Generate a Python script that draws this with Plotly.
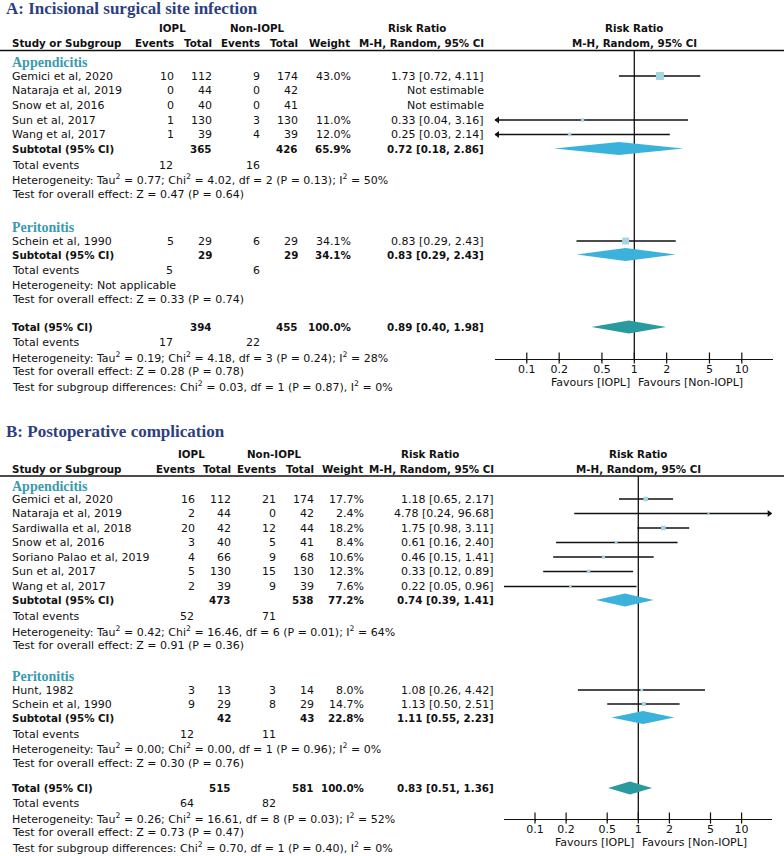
import math
import plotly.graph_objects as go

W, H = 784, 856
BODY = "DejaVu Sans"
SERIF = "Liberation Serif"
INK = "#111111"
NAVY = "#2e3f80"
TEAL_TXT = "#3a9aae"
SQ_COL = "#a4d6e2"
SUB_COL = "#3bb2dc"
TOT_COL = "#2a9a9e"
BOLD_SIZE = 10.3

# ---------------- Panel A data: Incisional surgical site infection ----------------
A_title = "A: Incisional surgical site infection"
A_groups = ["Appendicitis", "Peritonitis"]
A_study = ["Gemici et al, 2020", "Nataraja et al, 2019", "Snow et al, 2016",
           "Sun et al, 2017", "Wang et al, 2017", "Schein et al, 1990"]
A_group_of = [0, 0, 0, 0, 0, 1]
A_ev1 = [10, 0, 0, 1, 1, 5]
A_tot1 = [112, 44, 40, 130, 39, 29]
A_ev2 = [9, 0, 0, 3, 4, 6]
A_tot2 = [174, 42, 41, 130, 39, 29]
A_wt = [43.0, None, None, 11.0, 12.0, 34.1]
A_rr = [1.73, None, None, 0.33, 0.25, 0.83]
A_lo = [0.72, None, None, 0.04, 0.03, 0.29]
A_hi = [4.11, None, None, 3.16, 2.14, 2.43]
# subgroup summaries
A_sub_tot1 = [365, 29]
A_sub_tot2 = [426, 29]
A_sub_wt = [65.9, 34.1]
A_sub_rr = [0.72, 0.83]
A_sub_lo = [0.18, 0.29]
A_sub_hi = [2.86, 2.43]
A_sub_ev1 = [12, 5]
A_sub_ev2 = [16, 6]
A_sub_tau2 = [0.77, None]
A_sub_chi2 = [4.02, None]
A_sub_df = [2, None]
A_sub_p = [0.13, None]
A_sub_i2 = [50, None]
A_sub_z = [0.47, 0.33]
A_sub_pz = [0.64, 0.74]
# overall
A_tot = dict(tot1=394, tot2=455, wt=100.0, rr=0.89, lo=0.40, hi=1.98, ev1=17, ev2=22,
             tau2=0.19, chi2=4.18, df=3, p=0.24, i2=28, z=0.28, pz=0.78,
             sg_chi2=0.03, sg_df=1, sg_p=0.87, sg_i2=0)

# ---------------- Panel B data: Postoperative complication ----------------
B_title = "B: Postoperative complication"
B_groups = ["Appendicitis", "Peritonitis"]
B_study = ["Gemici et al, 2020", "Nataraja et al, 2019", "Sardiwalla et al, 2018",
           "Snow et al, 2016", "Soriano Palao et al, 2019", "Sun et al, 2017",
           "Wang et al, 2017", "Hunt, 1982", "Schein et al, 1990"]
B_group_of = [0, 0, 0, 0, 0, 0, 0, 1, 1]
B_ev1 = [16, 2, 20, 3, 4, 5, 2, 3, 9]
B_tot1 = [112, 44, 42, 40, 66, 130, 39, 13, 29]
B_ev2 = [21, 0, 12, 5, 9, 15, 9, 3, 8]
B_tot2 = [174, 42, 44, 41, 68, 130, 39, 14, 29]
B_wt = [17.7, 2.4, 18.2, 8.4, 10.6, 12.3, 7.6, 8.0, 14.7]
B_rr = [1.18, 4.78, 1.75, 0.61, 0.46, 0.33, 0.22, 1.08, 1.13]
B_lo = [0.65, 0.24, 0.98, 0.16, 0.15, 0.12, 0.05, 0.26, 0.50]
B_hi = [2.17, 96.68, 3.11, 2.40, 1.41, 0.89, 0.96, 4.42, 2.51]
B_sub_tot1 = [473, 42]
B_sub_tot2 = [538, 43]
B_sub_wt = [77.2, 22.8]
B_sub_rr = [0.74, 1.11]
B_sub_lo = [0.39, 0.55]
B_sub_hi = [1.41, 2.23]
B_sub_ev1 = [52, 12]
B_sub_ev2 = [71, 11]
B_sub_tau2 = [0.42, 0.00]
B_sub_chi2 = [16.46, 0.00]
B_sub_df = [6, 1]
B_sub_p = [0.01, 0.96]
B_sub_i2 = [64, 0]
B_sub_z = [0.91, 0.30]
B_sub_pz = [0.36, 0.76]
B_tot = dict(tot1=515, tot2=581, wt=100.0, rr=0.83, lo=0.51, hi=1.36, ev1=64, ev2=82,
             tau2=0.26, chi2=16.61, df=8, p=0.03, i2=52, z=0.73, pz=0.47,
             sg_chi2=0.70, sg_df=1, sg_p=0.40, sg_i2=0)

TICK_VALS = [0.1, 0.2, 0.5, 1, 2, 5, 10]
TICK_TEXT = ["0.1", "0.2", "0.5", "1", "2", "5", "10"]

# ---------------- layout (positions) ----------------
A_cols = dict(ev1=175, tot1=213, ev2=261, tot2=299, wt=352, rr=485, iopl=172, non=257,
              rrhdr=417, label=11, forest=634.3, decade=107.5, lo=-1.296, hi=1.293)
B_cols = dict(ev1=196, tot1=232, ev2=277, tot2=315, wt=365, rr=495, iopl=191, non=274,
              rrhdr=430, label=11, forest=638.3, decade=103.3, lo=-1.302, hi=1.291)
A_rows = dict(title=8, h1=28, h2=43, rule=50.5,
              groups=[dict(head=62, studies=[76, 90.5, 105, 120, 134.5], sub=148.5, ev=165, het=179.5, test=194),
                      dict(head=227, studies=[241], sub=254.5, ev=270, het=285, test=299)],
              total=327, tev=342, thet=357, ttest=371.5, tsg=386, axis=359, fav=382.5)
B_rows = dict(title=431, h1=453.5, h2=468.5, rule=476,
              groups=[dict(head=486, studies=[499, 513.5, 528, 542.5, 557, 571.5, 586.5], sub=600, ev=616.5, het=631, test=645.5),
                      dict(head=676, studies=[690, 704], sub=717.5, ev=734, het=748.5, test=763)],
              total=788, tev=803, thet=818, ttest=832.5, tsg=847, axis=819, fav=842.5)

fig = go.Figure()


def txt(x, y, s, anchor="left", bold=False, size=None, color=INK, family=BODY):
    if size is None:
        size = BOLD_SIZE if bold else 11
    fig.add_annotation(x=x, y=y, xref="x", yref="y", text=("<b>%s</b>" % s) if bold else s,
                       showarrow=False, xanchor=anchor, yanchor="middle", borderpad=0,
                       font=dict(family=family, size=size, color=color))


def fmt_ci(rr, lo, hi):
    return "%.2f [%.2f, %.2f]" % (rr, lo, hi)


def het_text(tau2, chi2, df, p, i2):
    if tau2 is None:
        return "Heterogeneity: Not applicable"
    return ("Heterogeneity: Tau<sup>2</sup> = %.2f; Chi<sup>2</sup> = %.2f, df = %d (P = %.2f); I<sup>2</sup> = %d%%"
            % (tau2, chi2, df, p, i2))


def draw_panel(title, groups, study, group_of, ev1, tot1, ev2, tot2, wt, rr, lo, hi,
               s_tot1, s_tot2, s_wt, s_rr, s_lo, s_hi, s_ev1, s_ev2, s_tau2, s_chi2, s_df, s_p, s_i2, s_z, s_pz,
               tot, C, R, xname):
    xmin, xmax = 10 ** C["lo"], 10 ** C["hi"]
    # title
    txt(5, R["title"], title, bold=True, size=17, color=NAVY, family=SERIF)
    # headers
    txt(C["iopl"], R["h1"], "IOPL", anchor="center", bold=True)
    txt(C["non"], R["h1"], "Non-IOPL", anchor="center", bold=True)
    txt(C["rrhdr"], R["h1"], "Risk Ratio", anchor="center", bold=True)
    txt(C["forest"], R["h1"], "Risk Ratio", anchor="center", bold=True)
    txt(C["label"], R["h2"], "Study or Subgroup", bold=True)
    txt(C["ev1"], R["h2"], "Events", anchor="right", bold=True)
    txt(C["tot1"], R["h2"], "Total", anchor="right", bold=True)
    txt(C["ev2"], R["h2"], "Events", anchor="right", bold=True)
    txt(C["tot2"], R["h2"], "Total", anchor="right", bold=True)
    txt(C["wt"] - 1, R["h2"], "Weight", anchor="right", bold=True)
    txt(C["rr"], R["h2"], "M-H, Random, 95% CI", anchor="right", bold=True)
    txt(C["forest"], R["h2"], "M-H, Random, 95% CI", anchor="center", bold=True)
    fig.add_shape(type="line", xref="paper", yref="y", x0=0, x1=1, y0=R["rule"], y1=R["rule"],
                  line=dict(color=INK, width=1.5))

    # null line
    fig.add_trace(go.Scatter(x=[1, 1], y=[R["rule"], R["axis"]], xaxis=xname, yaxis="y", mode="lines",
                             line=dict(color=INK, width=1.3), hoverinfo="skip", showlegend=False))
    # crossing tick marks
    fig.add_trace(go.Scatter(x=TICK_VALS, y=[R["axis"] - 1] * len(TICK_VALS), xaxis=xname, yaxis="y",
                             mode="markers", marker=dict(symbol="line-ns-open", size=8, color=INK,
                                                         line=dict(color=INK, width=1.2)),
                             cliponaxis=False, hoverinfo="skip", showlegend=False))

    for g, gname in enumerate(groups):
        GR = R["groups"][g]
        txt(C["label"], GR["head"], gname, bold=True, size=14, color=TEAL_TXT, family=SERIF)
        idx = [i for i in range(len(study)) if group_of[i] == g]
        for k, i in enumerate(idx):
            y = GR["studies"][k]
            txt(C["label"], y, study[i])
            txt(C["ev1"], y, str(ev1[i]), anchor="right")
            txt(C["tot1"], y, str(tot1[i]), anchor="right")
            txt(C["ev2"], y, str(ev2[i]), anchor="right")
            txt(C["tot2"], y, str(tot2[i]), anchor="right")
            if rr[i] is None:
                txt(C["rr"], y, "Not estimable", anchor="right")
                continue
            txt(C["wt"], y, "%.1f%%" % wt[i], anchor="right")
            txt(C["rr"], y, fmt_ci(rr[i], lo[i], hi[i]), anchor="right")
            # CI line, clipped to axis range
            l = max(lo[i], xmin)
            h = min(hi[i], xmax)
            fig.add_trace(go.Scatter(x=[l, h], y=[y, y], xaxis=xname, yaxis="y", mode="lines",
                                     line=dict(color=INK, width=1.3), hoverinfo="skip", showlegend=False))
            if lo[i] < xmin:
                fig.add_trace(go.Scatter(x=[xmin * 10 ** (2.5 / C["decade"])], y=[y], xaxis=xname, yaxis="y",
                                         mode="markers", marker=dict(symbol="triangle-left", size=6, color=INK),
                                         cliponaxis=False, hoverinfo="skip", showlegend=False))
            if hi[i] > xmax:
                fig.add_trace(go.Scatter(x=[xmax * 10 ** (-2.5 / C["decade"])], y=[y], xaxis=xname, yaxis="y",
                                         mode="markers", marker=dict(symbol="triangle-right", size=6, color=INK),
                                         cliponaxis=False, hoverinfo="skip", showlegend=False))
            fig.add_trace(go.Scatter(x=[rr[i]], y=[y], xaxis=xname, yaxis="y", mode="markers",
                                     marker=dict(symbol="square", size=max(2.0, 0.7 * wt[i] ** 0.65),
                                                 color=SQ_COL, line=dict(width=0)),
                                     cliponaxis=False, hoverinfo="skip", showlegend=False))
        # subtotal
        y = GR["sub"]
        txt(C["label"], y, "Subtotal (95% CI)", bold=True)
        txt(C["tot1"], y, str(s_tot1[g]), anchor="right", bold=True)
        txt(C["tot2"], y, str(s_tot2[g]), anchor="right", bold=True)
        txt(C["wt"], y, "%.1f%%" % s_wt[g], anchor="right", bold=True)
        txt(C["rr"], y, fmt_ci(s_rr[g], s_lo[g], s_hi[g]), anchor="right", bold=True)
        fig.add_trace(go.Scatter(x=[s_lo[g], s_rr[g], s_hi[g], s_rr[g], s_lo[g]],
                                 y=[y, y - 6.5, y, y + 6.5, y], xaxis=xname, yaxis="y", mode="lines",
                                 fill="toself", fillcolor=SUB_COL, line=dict(width=0, color=SUB_COL),
                                 hoverinfo="skip", showlegend=False))
        txt(C["label"], GR["ev"], "Total events")
        txt(C["ev1"] - 1, GR["ev"], str(s_ev1[g]), anchor="right")
        txt(C["ev2"], GR["ev"], str(s_ev2[g]), anchor="right")
        txt(C["label"], GR["het"], het_text(s_tau2[g], s_chi2[g], s_df[g], s_p[g], s_i2[g]))
        txt(C["label"], GR["test"], "Test for overall effect: Z = %.2f (P = %.2f)" % (s_z[g], s_pz[g]))

    # overall
    y = R["total"]
    txt(C["label"], y, "Total (95% CI)", bold=True)
    txt(C["tot1"], y, str(tot["tot1"]), anchor="right", bold=True)
    txt(C["tot2"], y, str(tot["tot2"]), anchor="right", bold=True)
    txt(C["wt"], y, "%.1f%%" % tot["wt"], anchor="right", bold=True)
    txt(C["rr"], y, fmt_ci(tot["rr"], tot["lo"], tot["hi"]), anchor="right", bold=True)
    fig.add_trace(go.Scatter(x=[tot["lo"], tot["rr"], tot["hi"], tot["rr"], tot["lo"]],
                             y=[y, y - 6.5, y, y + 6.5, y], xaxis=xname, yaxis="y", mode="lines",
                             fill="toself", fillcolor=TOT_COL, line=dict(width=0, color=TOT_COL),
                             hoverinfo="skip", showlegend=False))
    txt(C["label"], R["tev"], "Total events")
    txt(C["ev1"] - 1, R["tev"], str(tot["ev1"]), anchor="right")
    txt(C["ev2"], R["tev"], str(tot["ev2"]), anchor="right")
    txt(C["label"], R["thet"], het_text(tot["tau2"], tot["chi2"], tot["df"], tot["p"], tot["i2"]))
    txt(C["label"], R["ttest"], "Test for overall effect: Z = %.2f (P = %.2f)" % (tot["z"], tot["pz"]))
    txt(C["label"], R["tsg"], "Test for subgroup differences: Chi<sup>2</sup> = %.2f, df = %d (P = %.2f), I<sup>2</sup> = %d%%"
        % (tot["sg_chi2"], tot["sg_df"], tot["sg_p"], tot["sg_i2"]))
    txt(C["forest"] - 3, R["fav"], "Favours [IOPL]", anchor="right")
    txt(C["forest"] + 3, R["fav"], "Favours [Non-IOPL]", anchor="left")


draw_panel(A_title, A_groups, A_study, A_group_of, A_ev1, A_tot1, A_ev2, A_tot2, A_wt, A_rr, A_lo, A_hi,
           A_sub_tot1, A_sub_tot2, A_sub_wt, A_sub_rr, A_sub_lo, A_sub_hi, A_sub_ev1, A_sub_ev2,
           A_sub_tau2, A_sub_chi2, A_sub_df, A_sub_p, A_sub_i2, A_sub_z, A_sub_pz, A_tot, A_cols, A_rows, "x2")
draw_panel(B_title, B_groups, B_study, B_group_of, B_ev1, B_tot1, B_ev2, B_tot2, B_wt, B_rr, B_lo, B_hi,
           B_sub_tot1, B_sub_tot2, B_sub_wt, B_sub_rr, B_sub_lo, B_sub_hi, B_sub_ev1, B_sub_ev2,
           B_sub_tau2, B_sub_chi2, B_sub_df, B_sub_p, B_sub_i2, B_sub_z, B_sub_pz, B_tot, B_cols, B_rows, "x3")


def forest_axis(C, R):
    return dict(type="log", range=[C["lo"], C["hi"]],
                domain=[(C["forest"] + C["decade"] * C["lo"]) / W, (C["forest"] + C["decade"] * C["hi"]) / W],
                anchor="free", position=1 - R["axis"] / H, side="bottom",
                showline=True, linecolor=INK, linewidth=1.2, ticks="outside", ticklen=1, tickwidth=1,
                tickcolor=INK, tickvals=TICK_VALS, ticktext=TICK_TEXT, showgrid=False, zeroline=False,
                ticklabelstandoff=-1,
                tickfont=dict(family=BODY, size=11, color=INK), fixedrange=True)


fig.update_layout(
    width=W, height=H, margin=dict(l=0, r=0, t=0, b=0),
    paper_bgcolor="white", plot_bgcolor="rgba(0,0,0,0)", showlegend=False,
    xaxis=dict(range=[0, W], domain=[0, 1], visible=False, fixedrange=True),
    yaxis=dict(range=[H, 0], domain=[0, 1], visible=False, fixedrange=True),
    xaxis2=forest_axis(A_cols, A_rows),
    xaxis3=forest_axis(B_cols, B_rows),
)

fig.write_html("out.html")
